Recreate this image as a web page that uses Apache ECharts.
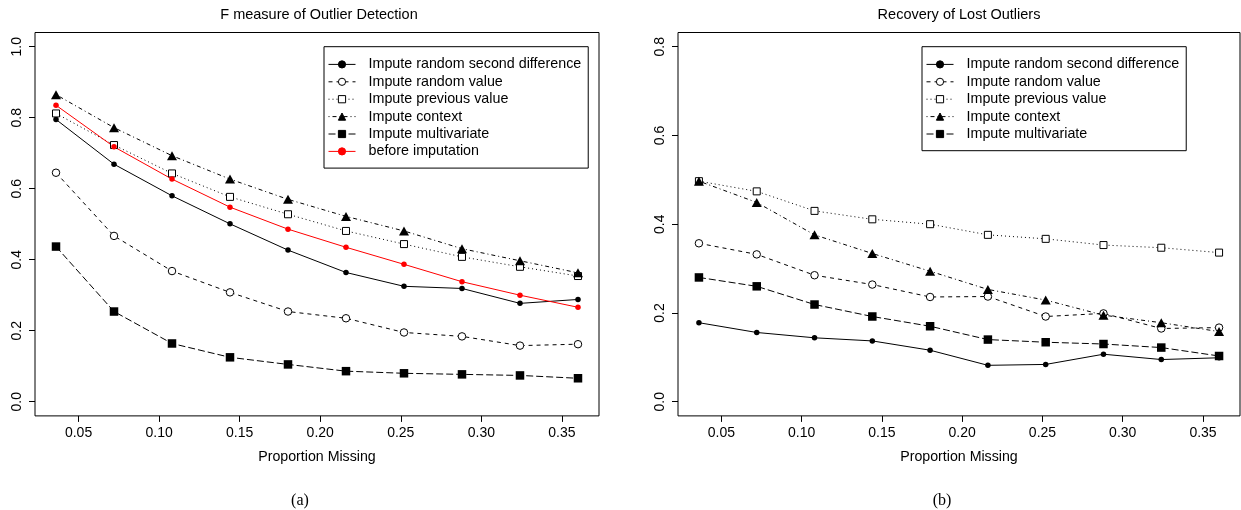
<!DOCTYPE html>
<html>
<head>
<meta charset="utf-8">
<script src="https://cdn.jsdelivr.net/npm/echarts@6/dist/echarts.min.js"></script>
<style>
html, body { margin: 0; padding: 0; background: #fff; }
#main { width: 1241px; height: 510px; }
</style>
</head>
<body>
<div id="main"></div>
<script>
// proportion of values missing (x)
var proportion = [0.036, 0.072, 0.108, 0.144, 0.180, 0.216, 0.252, 0.288, 0.324, 0.360];
var xTicks = [0.05, 0.10, 0.15, 0.20, 0.25, 0.30, 0.35];
var yTicksA = [0.0, 0.2, 0.4, 0.6, 0.8, 1.0];
var yTicksB = [0.0, 0.2, 0.4, 0.6, 0.8];

var methods = [
    'Impute random second difference',
    'Impute random value',
    'Impute previous value',
    'Impute context',
    'Impute multivariate',
    'before imputation'
];

// (a) F measure of outlier detection
var fSecondDiff = [0.795, 0.669, 0.580, 0.501, 0.427, 0.364, 0.325, 0.319, 0.277, 0.288];
var fRandom     = [0.645, 0.467, 0.368, 0.308, 0.254, 0.235, 0.195, 0.184, 0.158, 0.162];
var fPrevious   = [0.812, 0.723, 0.643, 0.577, 0.528, 0.481, 0.444, 0.408, 0.380, 0.354];
var fContext    = [0.865, 0.772, 0.693, 0.627, 0.570, 0.522, 0.481, 0.431, 0.397, 0.363];
var fMultivar   = [0.437, 0.254, 0.164, 0.125, 0.105, 0.086, 0.080, 0.077, 0.074, 0.066];
var fBefore     = [0.835, 0.718, 0.627, 0.548, 0.486, 0.435, 0.387, 0.338, 0.300, 0.266];

// (b) recovery of lost outliers
var rSecondDiff = [0.178, 0.156, 0.144, 0.137, 0.116, 0.082, 0.084, 0.107, 0.095, 0.099];
var rRandom     = [0.357, 0.332, 0.285, 0.264, 0.236, 0.237, 0.192, 0.199, 0.165, 0.167];
var rPrevious   = [0.497, 0.474, 0.430, 0.411, 0.400, 0.376, 0.367, 0.353, 0.347, 0.336];
var rContext    = [0.497, 0.449, 0.376, 0.334, 0.294, 0.253, 0.229, 0.195, 0.178, 0.158];
var rMultivar   = [0.280, 0.260, 0.219, 0.192, 0.170, 0.140, 0.134, 0.130, 0.122, 0.103];

var font = '"Liberation Sans", Arial, Helvetica, sans-serif';
var serif = '"Liberation Serif", "Times New Roman", serif';

// R style: lty 1..5 and pch 20, 1, 0, 17, 15
var looks = [
    { symbol: 'circle',   size: 5.5,    dash: 'solid',      color: '#000',    fill: '#000' },
    { symbol: 'circle',   size: 7.5,    dash: [4, 4],       color: '#000',    fill: '#fff' },
    { symbol: 'rect',     size: 7,      dash: [1, 3],       color: '#000',    fill: '#fff' },
    { symbol: 'triangle', size: [10, 9], dash: [1, 3, 4, 3], color: '#000',   fill: '#000' },
    { symbol: 'rect',     size: 8.5,    dash: [7, 3],       color: '#000',    fill: '#000' },
    { symbol: 'circle',   size: 5.5,    dash: 'solid',      color: '#ff0000', fill: '#ff0000' }
];

function pairs(ys) {
    return proportion.map(function (x, i) { return [x, ys[i]]; });
}

function makeSeries(idx, ys, k) {
    var l = looks[k];
    return {
        name: methods[k],
        type: 'line',
        xAxisIndex: idx,
        yAxisIndex: idx,
        data: pairs(ys),
        symbol: l.symbol,
        symbolSize: l.size,
        showAllSymbol: true,
        lineStyle: { color: l.color, width: 1, type: l.dash },
        itemStyle: {
            color: l.fill,
            borderColor: l.color,
            borderWidth: l.fill === '#fff' ? 1 : 0
        },
        emphasis: { disabled: true },
        animation: false
    };
}

var myChart = echarts.init(document.getElementById('main'));

function xAxisOf(idx) {
    return {
        gridIndex: idx,
        type: 'value',
        min: 0.02296,
        max: 0.37304,
        axisLine: { show: false, onZero: false },
        splitLine: { show: false },
        axisTick: { show: true, length: 6, customValues: xTicks, lineStyle: { color: '#000' } },
        axisLabel: {
            customValues: xTicks,
            formatter: function (v) { return v.toFixed(2); },
            margin: 10, fontSize: 14, color: '#000', fontFamily: font
        },
        name: 'Proportion Missing',
        nameLocation: 'middle',
        nameGap: 34,
        nameTextStyle: { fontSize: 14.2, color: '#000', fontFamily: font }
    };
}

function yAxisOf(idx, ticks, top) {
    return {
        gridIndex: idx,
        type: 'value',
        min: -0.04 * top,
        max: 1.04 * top,
        axisLine: { show: false, onZero: false },
        splitLine: { show: false },
        axisTick: { show: true, length: 6, customValues: ticks, lineStyle: { color: '#000' } },
        axisLabel: {
            customValues: ticks,
            rotate: 90,
            formatter: function (v) { return v.toFixed(1); },
            margin: 11, fontSize: 14, color: '#000', fontFamily: font
        }
    };
}

function legendOf(left, names) {
    return {
        left: left,
        top: 46.7,
        orient: 'vertical',
        data: names,
        itemWidth: 27,
        itemHeight: 9,
        itemGap: 0,
        padding: [9, 7, 8, 4],
        borderColor: '#000',
        borderWidth: 1,
        borderRadius: 0,
        selectedMode: false,
        lineStyle: { width: 1 },
        itemStyle: { borderWidth: 1 },
        textStyle: { fontSize: 14.3, lineHeight: 17.4, color: '#000', fontFamily: font, padding: [0, 0, 0, 8] }
    };
}

var series = [
    makeSeries(0, fSecondDiff, 0),
    makeSeries(0, fRandom, 1),
    makeSeries(0, fPrevious, 2),
    makeSeries(0, fContext, 3),
    makeSeries(0, fMultivar, 4),
    makeSeries(0, fBefore, 5),
    makeSeries(1, rSecondDiff, 0),
    makeSeries(1, rRandom, 1),
    makeSeries(1, rPrevious, 2),
    makeSeries(1, rContext, 3),
    makeSeries(1, rMultivar, 4)
];

option = {
    backgroundColor: '#fff',
    animation: false,
    title: [
        { text: 'F measure of Outlier Detection', left: 319, top: 7, textAlign: 'center', padding: 0,
          textStyle: { fontSize: 14.5, fontWeight: 'normal', color: '#000', fontFamily: font } },
        { text: 'Recovery of Lost Outliers', left: 959, top: 7, textAlign: 'center', padding: 0,
          textStyle: { fontSize: 14.5, fontWeight: 'normal', color: '#000', fontFamily: font } },
        { text: '(a)', left: 300, top: 493, textAlign: 'center', padding: 0,
          textStyle: { fontSize: 16, fontWeight: 'normal', color: '#000', fontFamily: serif } },
        { text: '(b)', left: 942, top: 493, textAlign: 'center', padding: 0,
          textStyle: { fontSize: 16, fontWeight: 'normal', color: '#000', fontFamily: serif } }
    ],
    legend: [
        legendOf(324, methods),
        legendOf(922, methods.slice(0, 5))
    ],
    grid: [
        { left: 35, top: 32.5, width: 564, height: 383.4, show: true, borderColor: '#000', borderWidth: 1, containLabel: false },
        { left: 678, top: 32.5, width: 562, height: 383.4, show: true, borderColor: '#000', borderWidth: 1, containLabel: false }
    ],
    xAxis: [xAxisOf(0), xAxisOf(1)],
    yAxis: [yAxisOf(0, yTicksA, 1.0), yAxisOf(1, yTicksB, 0.8)],
    series: series
};

myChart.setOption(option);
window.addEventListener("resize", function () {
    myChart.resize();
});
</script>
</body>
</html>
